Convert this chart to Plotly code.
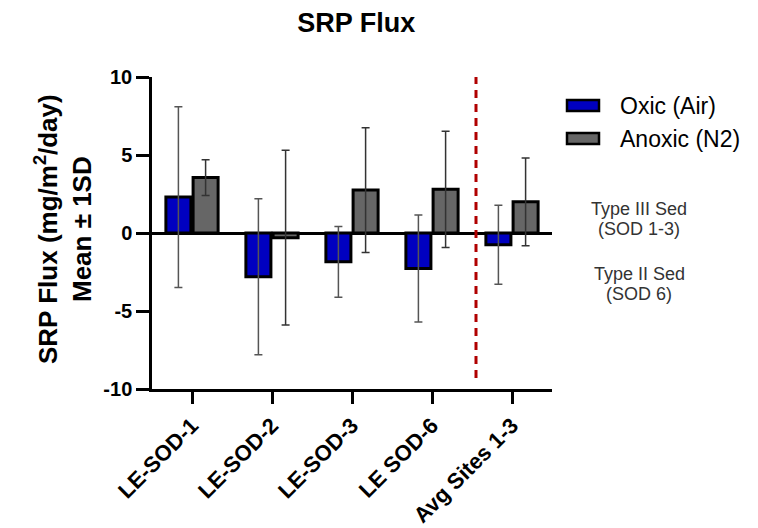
import plotly.graph_objects as go

sites = ["LE-SOD-1", "LE-SOD-2", "LE-SOD-3", "LE SOD-6", "Avg Sites 1-3"]
oxic_mean = [2.3, -2.8, -1.85, -2.27, -0.75]
oxic_sd = [5.8, 5.0, 2.27, 3.43, 2.53]
anoxic_mean = [3.55, -0.3, 2.75, 2.8, 2.0]
anoxic_sd = [1.15, 5.6, 4.0, 3.73, 2.81]
series_names = ["Oxic (Air)", "Anoxic (N2)"]
series_colors = ["#0000C0", "#666666"]
y_ticks = [-10, -5, 0, 5, 10]
divider_pos = 3.55
side_notes = [("Type III Sed", 209), ("(SOD 1-3)", 229), ("Type II Sed", 274), ("(SOD 6)", 294)]

font_family = "Arial, Liberation Sans, sans-serif"

# plot-area geometry in pixels (used to place paper-referenced decorations)
W, H = 758, 528
L, R, T, B = 152, 206, 77, 139
PW, PH = W - L - R, H - T - B


def px_x(p):
    return (p - L) / PW


def px_y(p):
    return (H - B - p) / PH


fig = go.Figure()
for name, color, mean, sd, ecol in [
    (series_names[0], series_colors[0], oxic_mean, oxic_sd, "#555555"),
    (series_names[1], series_colors[1], anoxic_mean, anoxic_sd, "#333333"),
]:
    fig.add_trace(go.Bar(
        name=name, x=sites, y=mean, showlegend=False,
        marker=dict(color=color, line=dict(color="black", width=3)),
        error_y=dict(type="data", array=sd, color=ecol, thickness=1.5, width=4),
    ))

# dashed separator before the averaged group
fig.add_shape(type="line", xref="x", yref="y",
              x0=divider_pos, x1=divider_pos, y0=-9.3, y1=10,
              line=dict(color="#B00000", width=3, dash="8px,6px"))

# legend drawn as wide swatches with labels
for i, (name, color) in enumerate(zip(series_names, series_colors)):
    top = 100 + 33 * i
    fig.add_shape(type="rect", xref="paper", yref="paper",
                  x0=px_x(567), x1=px_x(599), y0=px_y(top + 11), y1=px_y(top),
                  fillcolor=color, line=dict(color="black", width=2.5))
    fig.add_annotation(text=name, xref="paper", yref="paper",
                       x=px_x(618), y=px_y(top + 6), xanchor="left", yanchor="middle",
                       showarrow=False,
                       font=dict(family=font_family, size=23, color="black"))

for text, ypix in side_notes:
    fig.add_annotation(text=text, xref="paper", yref="paper",
                       x=px_x(639), y=px_y(ypix), xanchor="center", yanchor="middle",
                       showarrow=False,
                       font=dict(family=font_family, size=18, color="#333333"))

# y-axis title
fig.add_annotation(text="<b>SRP Flux (mg/m<sup>2</sup>/day)<br>Mean ± 1SD</b>",
                   xref="paper", yref="paper", x=px_x(63), y=px_y(229),
                   xanchor="center", yanchor="middle", textangle=-90, showarrow=False,
                   font=dict(family=font_family, size=26, color="black"))

fig.update_layout(
    width=W, height=H,
    margin=dict(l=L, r=R, t=T, b=B),
    paper_bgcolor="white", plot_bgcolor="white",
    barmode="group", bargap=0.32, bargroupgap=0.08,
    font=dict(family=font_family, color="black"),
    showlegend=False,
    title=dict(text="<b>SRP Flux</b>", xref="container", x=0.47, xanchor="center",
               yref="container", y=1 - 23 / H, yanchor="middle",
               font=dict(size=27, color="black")),
    xaxis=dict(
        range=[-0.5, 4.5], showline=True, linecolor="black", linewidth=3,
        ticks="outside", ticklen=12, tickwidth=3, tickcolor="black",
        tickangle=-45, tickfont=dict(size=22, color="black", family=font_family),
        tickvals=sites, ticktext=["<b>%s</b>" % s for s in sites],
        showgrid=False, automargin=False,
    ),
    yaxis=dict(
        range=[-10, 10], tickvals=y_ticks,
        ticktext=["<b>%d</b>" % v for v in y_ticks],
        showline=True, linecolor="black", linewidth=2.5,
        ticks="outside", ticklen=13, tickwidth=2.5, tickcolor="black",
        tickfont=dict(size=20, color="black"),
        showgrid=False, zeroline=True, zerolinecolor="black", zerolinewidth=3,
        automargin=False,
    ),
)

fig.write_html("out.html")
